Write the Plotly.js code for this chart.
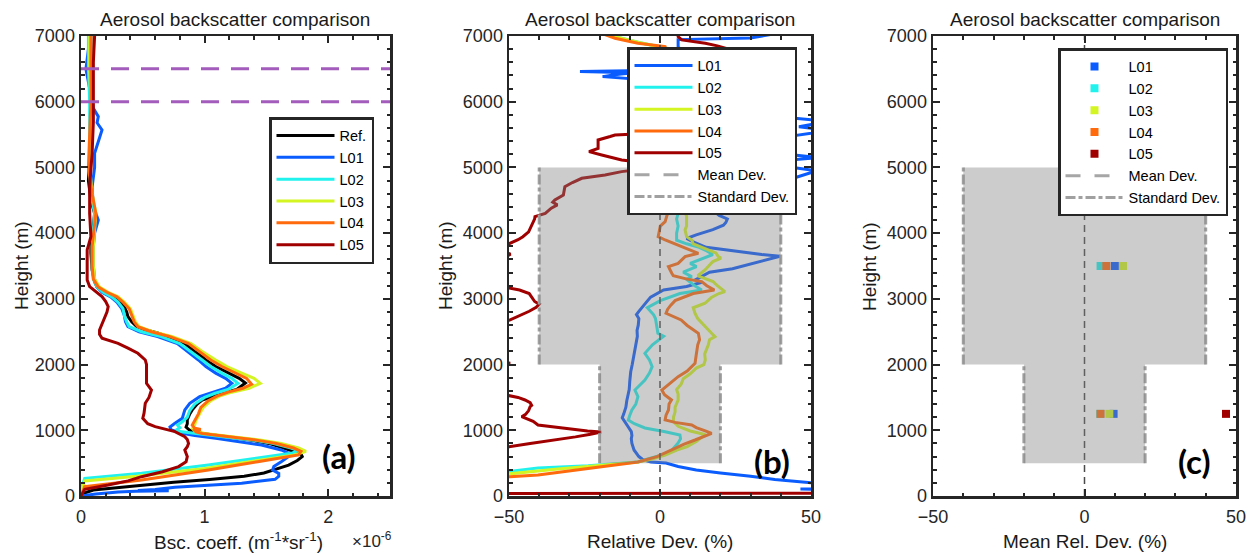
<!DOCTYPE html>
<html><head><meta charset="utf-8">
<script src="https://cdn.plot.ly/plotly-3.0.1.min.js"></script>
<style>html,body{margin:0;padding:0;background:#fff}#chart{width:1249px;height:555px}</style>
</head><body><div id="chart"></div>
<script>
// ---------------- DATA ----------------
// Panel (a): backscatter profiles [height (m), bsc coeff (x1e-6 m^-1 sr^-1)]
const aRef = [[0,0],[40,0.02],[90,0.1],[130,0.3],[170,0.5],[210,0.75],[250,1.04],[300,1.32],[350,1.48],[400,1.57],[470,1.68],[540,1.75],[600,1.79],[640,1.78],[680,1.72],[730,1.64],[800,1.52],[850,1.38],[900,1.18],[950,0.98],[1000,0.88],[1050,0.85],[1100,0.86],[1160,0.86],[1250,0.88],[1310,0.9],[1400,0.94],[1460,0.98],[1520,1.08],[1570,1.15],[1620,1.26],[1680,1.3],[1720,1.33],[1790,1.28],[1870,1.2],[1970,1.09],[2070,1.01],[2120,0.98],[2200,0.92],[2320,0.84],[2400,0.74],[2480,0.62],[2530,0.52],[2580,0.45],[2650,0.41],[2730,0.38],[2800,0.37],[2880,0.35],[2960,0.31],[3030,0.26],[3100,0.19],[3180,0.13],[3260,0.11],[3440,0.09],[3700,0.08],[3900,0.08],[4100,0.1],[4300,0.11],[4500,0.08],[4800,0.06],[5100,0.07],[5500,0.08],[5900,0.08],[6300,0.07],[6700,0.08],[7000,0.08]];
const aL01 = [[0,0],[30,0.12],[60,0.3],[72,0.44],[78,0.71],[84,0.46],[100,0.6],[132,0.76],[193,1.3],[254,1.57],[300,1.6],[345,1.6],[396,1.55],[450,1.56],[520,1.62],[600,1.68],[650,1.68],[700,1.62],[776,1.46],[830,1.28],[878,1.09],[920,0.92],[954,0.82],[1005,0.73],[1050,0.72],[1106,0.76],[1183,0.82],[1250,0.83],[1309,0.84],[1411,0.88],[1512,0.96],[1580,1.07],[1640,1.17],[1715,1.22],[1790,1.17],[1870,1.09],[1970,1.01],[2070,0.95],[2200,0.86],[2320,0.78],[2425,0.62],[2500,0.47],[2577,0.38],[2650,0.36],[2750,0.35],[2850,0.33],[2950,0.29],[3030,0.24],[3100,0.17],[3180,0.13],[3300,0.11],[3500,0.1],[3800,0.1],[4000,0.11],[4200,0.14],[4400,0.1],[4700,0.09],[5000,0.11],[5216,0.11],[5400,0.14],[5570,0.17],[5680,0.13],[5773,0.14],[5900,0.1],[6200,0.07],[6500,0.04],[6800,0.06],[7000,0.07]];
const aL02 = [[0,0],[150,0.01],[269,0.03],[345,0.49],[472,1.03],[573,1.43],[650,1.7],[690,1.76],[730,1.7],[800,1.56],[850,1.4],[903,1.15],[950,0.9],[980,0.8],[1005,0.77],[1040,0.8],[1080,0.78],[1130,0.82],[1200,0.86],[1300,0.88],[1400,0.92],[1500,1.0],[1560,1.08],[1620,1.19],[1715,1.27],[1790,1.22],[1870,1.14],[1970,1.05],[2070,0.98],[2200,0.89],[2320,0.8],[2425,0.65],[2500,0.49],[2577,0.39],[2650,0.37],[2750,0.35],[2850,0.34],[2950,0.3],[3030,0.25],[3100,0.18],[3180,0.13],[3300,0.1],[3500,0.09],[3800,0.09],[4100,0.1],[4300,0.11],[4600,0.08],[5000,0.07],[5500,0.07],[6000,0.07],[6500,0.06],[7000,0.06]];
const aL03 = [[0,0],[120,0.01],[228,0.03],[300,0.45],[420,1.0],[530,1.42],[620,1.72],[680,1.82],[730,1.76],[800,1.62],[850,1.46],[903,1.22],[950,1.0],[990,0.92],[1030,0.9],[1080,0.92],[1150,0.93],[1250,0.96],[1350,0.99],[1450,1.05],[1520,1.12],[1580,1.22],[1640,1.36],[1715,1.45],[1790,1.4],[1870,1.3],[1970,1.18],[2070,1.09],[2200,0.98],[2320,0.89],[2425,0.74],[2500,0.58],[2577,0.47],[2650,0.44],[2750,0.42],[2850,0.4],[2950,0.35],[3030,0.3],[3100,0.22],[3180,0.15],[3300,0.11],[3500,0.1],[3800,0.1],[4100,0.11],[4300,0.12],[4600,0.09],[5000,0.07],[5500,0.08],[6000,0.08],[6500,0.07],[7000,0.07]];
const aL04 = [[0,0],[60,0.01],[142,0.03],[243,0.49],[396,1.03],[522,1.43],[624,1.76],[680,1.78],[730,1.72],[800,1.58],[850,1.42],[903,1.2],[950,0.98],[975,0.93],[1000,0.92],[1012,0.97],[1030,0.92],[1080,0.9],[1150,0.92],[1250,0.95],[1350,0.97],[1450,1.03],[1520,1.1],[1580,1.19],[1640,1.31],[1700,1.38],[1790,1.34],[1870,1.25],[1970,1.14],[2070,1.05],[2200,0.96],[2320,0.87],[2425,0.72],[2500,0.57],[2577,0.46],[2650,0.43],[2750,0.41],[2850,0.39],[2950,0.34],[3030,0.29],[3100,0.21],[3180,0.14],[3300,0.1],[3500,0.09],[3800,0.09],[4100,0.11],[4300,0.12],[4600,0.09],[5000,0.06],[5500,0.07],[6000,0.08],[6500,0.08],[7000,0.08]];
const aL05 = [[0,0],[101,0.03],[167,0.22],[230,0.38],[294,0.49],[370,0.66],[447,0.79],[520,0.85],[599,0.86],[650,0.85],[700,0.84],[750,0.86],[801,0.87],[860,0.86],[903,0.84],[979,0.76],[1030,0.66],[1055,0.6],[1100,0.54],[1183,0.5],[1260,0.51],[1360,0.52],[1411,0.52],[1500,0.55],[1613,0.57],[1715,0.53],[1820,0.53],[1918,0.53],[2000,0.53],[2070,0.52],[2172,0.46],[2250,0.38],[2324,0.3],[2400,0.17],[2460,0.15],[2527,0.15],[2620,0.17],[2729,0.19],[2800,0.21],[2881,0.22],[2960,0.2],[3034,0.17],[3110,0.12],[3186,0.07],[3288,0.05],[3500,0.05],[3744,0.05],[3947,0.08],[4300,0.07],[4708,0.07],[5216,0.09],[5700,0.1],[6230,0.1],[6600,0.1],[7000,0.11]];
const calibHeights = [6000, 6500];

// Panel (b): relative deviation profiles [height (m), deviation (%)]
const bL01 = [[20,200],[90,60],[105,46.5],[115,60],[190,52],[203,50],[250,38],[300,30],[350,20],[396,12],[450,6],[502,2],[517,-3],[550,-5.5],[600,-7],[700,-8.6],[800,-9.3],[870,-9.5],[920,-9.3],[980,-9.5],[1050,-10.5],[1135,-11.8],[1190,-12.5],[1250,-12],[1350,-11.3],[1450,-11],[1550,-10.5],[1620,-10.2],[1750,-10],[1890,-9.7],[2000,-9.2],[2160,-8.6],[2300,-8],[2430,-7.5],[2520,-7.6],[2600,-7.2],[2700,-7],[2760,-7.8],[2810,-7],[2865,-5.9],[2950,-4.5],[3027,-3.1],[3100,-0.5],[3135,1.2],[3189,8.8],[3243,13.1],[3297,12],[3350,14],[3405,16.4],[3459,24],[3513,28.3],[3540,30.5],[3594,34.8],[3648,39.7],[3675,33.7],[3729,25],[3784,15.3],[3865,11],[3919,8.8],[3973,12],[4054,17.5],[4120,21],[4162,21.8],[4216,22.3],[4250,20.5],[4270,19.6],[4351,17.5],[4378,11],[4405,7.7],[4450,10],[4600,28],[4800,42],[4950,52],[5000,44],[5100,40],[5150,53],[5200,42],[5350,40],[5480,44],[5560,56],[5620,46],[5700,56],[5760,42],[5900,30],[6100,15],[6250,2],[6340,-7],[6382,-19],[6410,-15],[6440,-9],[6458,-26.5],[6475,-5],[6550,5],[6700,10],[6830,6],[6945,6],[6970,30],[7050,40]];
const bL02 = [[100,-300],[250,-80],[330,-58],[378,-50],[426,-40.4],[461,-23.8],[490,-14],[517,-7.3],[563,-4],[624,0.7],[700,4],[807,6],[870,6.8],[928,6.6],[979,1.7],[1035,-5],[1100,-8.5],[1157,-10.5],[1230,-10],[1309,-9.3],[1400,-8],[1511,-7.3],[1613,-8.3],[1700,-6.5],[1765,-5],[1870,-3.5],[1968,-2.6],[2070,-3.5],[2171,-5],[2300,-2.5],[2432,1.2],[2476,-0.7],[2595,-1],[2700,-1.5],[2757,-2.1],[2865,-4.2],[2973,0.1],[3081,6.6],[3135,13.8],[3200,11.5],[3297,8.8],[3338,10.5],[3405,7.7],[3490,12.1],[3540,10],[3621,14.2],[3642,15.9],[3675,17.5],[3730,15.5],[3784,13],[3838,8.8],[3892,5.5],[4000,5.5],[4108,6],[4216,5.5],[4300,6],[4383,7.2],[4450,8],[4700,12],[5000,14],[5500,10],[6000,8],[6500,4],[6834,0],[6900,-7],[6990,-15],[7050,-20]];
const bL03 = [[100,-300],[220,-80],[300,-58],[340,-50],[380,-42],[415,-33],[450,-24],[490,-15],[517,-7.3],[560,-3],[624,1.7],[700,5.5],[751,9],[830,12],[900,14],[940,14.5],[990,10],[1060,6],[1135,4.4],[1207,4.5],[1280,5],[1351,5],[1461,6],[1550,6],[1621,5.5],[1700,7],[1784,7.7],[1860,10],[1946,12],[2000,14.5],[2070,15],[2162,14.8],[2300,16],[2378,16.4],[2425,18.2],[2480,17],[2577,14.9],[2700,12.5],[2780,11.6],[2865,11],[2933,14.9],[3020,17],[3081,19.5],[3110,21.5],[3200,19],[3262,17.6],[3351,12.5],[3440,14.9],[3520,16.5],[3567,17.5],[3621,20.2],[3642,19.3],[3700,18.5],[3760,15],[3838,11],[3896,10.5],[3946,8.8],[4049,8.3],[4108,8.8],[4252,8.8],[4300,8.5],[4383,9.3],[4450,10],[4700,14],[5000,16],[5500,12],[6000,9],[6500,5],[6834,0],[6900,-7],[6990,-15],[7050,-20]];
const bL04 = [[100,-300],[200,-80],[260,-58],[294,-49.7],[320,-40.4],[380,-30],[426,-23.8],[480,-13],[517,-7.3],[600,-1],[700,3.8],[790,8],[852,11.6],[920,15.5],[954,17.1],[990,15],[1040,12],[1081,10.5],[1120,5],[1157,1.7],[1230,2],[1309,2.8],[1400,3],[1461,3.8],[1540,1.5],[1613,0.6],[1700,3],[1816,6],[1900,9],[2019,11.6],[2150,12],[2300,12.5],[2378,13.1],[2476,12.7],[2595,9],[2679,7],[2780,2],[2840,2.5],[2900,3.5],[2973,5],[3081,11],[3135,18],[3200,15.5],[3262,13.8],[3300,9],[3351,4.4],[3389,3.9],[3459,3],[3490,2.8],[3540,6],[3642,8.3],[3693,12.7],[3740,10],[3838,4.4],[3896,1.7],[3947,-0.6],[4000,-0.4],[4049,0],[4108,0.1],[4176,1.7],[4270,2.3],[4379,3.3],[4450,4],[4700,8],[5000,10],[5500,8],[6000,6],[6500,4],[6839,1.7],[6890,-7.3],[6966,-14.9],[7050,-20]];
const bL05 = [[35,-300],[45,300],[null,null],[600,-300],[740,-52],[751,-50],[800,-43],[852,-34.8],[900,-28],[940,-23],[959,-20.5],[975,-19.5],[990,-24],[1027,-31.3],[1081,-40.4],[1135,-42],[1207,-45.8],[1243,-44.5],[1300,-43.5],[1360,-43],[1378,-42.5],[1420,-43],[1461,-44.7],[1500,-47],[1537,-51.3],[1600,-58],[1800,-60],[1980,-55],[2019,-49.6],[2060,-55],[2300,-70],[2600,-58],[2676,-49.8],[2750,-46],[2811,-43.3],[2870,-41],[2919,-40],[2960,-41.5],[3030,-42.5],[3081,-43.3],[3135,-46.5],[3162,-50],[3250,-60],[3500,-62],[3640,-51],[3680,-49.5],[3720,-52],[3790,-51],[3846,-49.7],[3900,-47],[3946,-45.4],[4020,-43.5],[4108,-42.5],[4216,-41.5],[4252,-41.4],[4300,-38],[4380,-36],[4430,-34],[4470,-35.5],[4505,-34.8],[4580,-32],[4650,-31.7],[4708,-31.5],[4770,-29],[4835,-25.9],[4886,-18.2],[4936,-12.7],[4980,-5],[5030,0],[5070,-5],[5114,-12.7],[5190,-19.3],[5240,-23.5],[5290,-20.5],[5418,-20.5],[5470,-16.5],[5494,-14.9],[5510,-8],[5700,2],[6000,10],[6400,18],[6700,24],[6788,23.7],[6850,19],[6890,15],[6940,7.2],[6990,6],[7050,6]];

// Panel (c): mean relative deviation per layer
const cHeights = [1250, 3500];
const cL01 = [9.6, 10.0];
const cL02 = [5.2, 5.3];
const cL03 = [8.2, 12.7];
const cL04 = [5.3, 7.2];
const cL05 = [46.7, null];

// Reference mean deviation and standard-deviation bands
const meanDev = 0;
const stdBands = [{hmin:500, hmax:2000, sd:20}, {hmin:2000, hmax:5000, sd:40}];

// Axis settings
const heightRange = [0, 7000];
const heightTicks = [0,1000,2000,3000,4000,5000,6000,7000];
const bscRange = [0, 2.5];
const bscTicks = [0, 1, 2];
const devRange = [-50, 50];
const devTicks = [-50, 0, 50];

const names = ['L01','L02','L03','L04','L05'];
const COL = {'Ref.':'#000000', L01:'#0a5cff', L02:'#22f2ee', L03:'#d4f522', L04:'#ff6a0c', L05:'#a00000'};

// ---------------- BUILD ----------------
const W = 1249, H = 555;
const FONT = '"Liberation Sans", Arial, Helvetica, sans-serif';
const fx = p => p / W, fy = p => 1 - p / H;
const xs = arr => arr.map(p => p[1]);
const ys = arr => arr.map(p => p[0]);

const traces = [];
const aSeries = [['Ref.', aRef], ['L01', aL01], ['L02', aL02], ['L03', aL03], ['L04', aL04], ['L05', aL05]];
aSeries.forEach(([n, d]) => traces.push({type:'scatter', mode:'lines', name:n, x:xs(d), y:ys(d), xaxis:'x', yaxis:'y',
  line:{color:COL[n], width:3}, legend:'legend', hoverinfo:'skip'}));

const bSeries = [bL01, bL02, bL03, bL04, bL05];
bSeries.forEach((d, i) => traces.push({type:'scatter', mode:'lines', name:names[i], x:xs(d), y:ys(d), xaxis:'x2', yaxis:'y2',
  line:{color:COL[names[i]], width:3}, legend:'legend2', connectgaps:false, hoverinfo:'skip'}));

const cSeries = [cL01, cL02, cL03, cL04, cL05];
cSeries.forEach((d, i) => traces.push({type:'scatter', mode:'markers', name:names[i], x:d, y:cHeights, xaxis:'x3', yaxis:'y3',
  marker:{color:COL[names[i]], size:8, symbol:'square', line:{width:0}}, legend:'legend3', hoverinfo:'skip'}));

// std band edges and mean line for (b) and (c)
function stdEdges() {
  const x = [], y = [];
  stdBands.forEach(b => { [-1, 1].forEach(s => { x.push(meanDev + s*b.sd, meanDev + s*b.sd, null); y.push(b.hmin, b.hmax, null); }); });
  return {x, y};
}
function bandPath() {
  const right = stdBands.map(b => `L${meanDev + b.sd},${b.hmin} L${meanDev + b.sd},${b.hmax}`).join(' ');
  const left = stdBands.slice().reverse().map(b => `L${meanDev - b.sd},${b.hmax} L${meanDev - b.sd},${b.hmin}`).join(' ');
  const b0 = stdBands[0];
  return `M${meanDev - b0.sd},${b0.hmin} ${right} ${left} Z`;
}
[['x2','y2','legend2'], ['x3','y3','legend3']].forEach(([xa, ya, lg]) => {
  traces.push({type:'scatter', mode:'lines', x:[meanDev, meanDev], y:heightRange, xaxis:xa, yaxis:ya, showlegend:false,
    line:{color:'#4a4a4a', width:1.5, dash:'7px,5px'}, hoverinfo:'skip'});
  traces.push({type:'scatter', mode:'lines', name:'Mean Dev.', x:[null], y:[null], xaxis:xa, yaxis:ya, legend:lg,
    line:{color:'#a6a6a6', width:3, dash:'15px,14px'}, hoverinfo:'skip'});
  const e = stdEdges();
  traces.push({type:'scatter', mode:'lines', name:'Standard Dev.', x:e.x, y:e.y, xaxis:xa, yaxis:ya, legend:lg, connectgaps:false,
    line:{color:'#a0a0a0', width:3, dash:'10px,3px,4px,3px'}, hoverinfo:'skip'});
});

const shapes = [];
calibHeights.forEach(h => shapes.push({type:'line', xref:'x domain', yref:'y', x0:0, x1:1, y0:h, y1:h,
  line:{color:'#a35cbb', width:3, dash:'18px,12px'}, layer:'above'}));
[['x2','y2'], ['x3','y3']].forEach(([xa, ya]) => shapes.push({type:'path', xref:xa, yref:ya, path:bandPath(),
  fillcolor:'rgb(128,128,128)', opacity:0.4, line:{width:0}, layer:'above'}));

const axBase = {showline:true, linecolor:'#262626', linewidth:2.5, mirror:'ticks', ticks:'inside', ticklen:7, tickwidth:2,
  tickcolor:'#262626', showgrid:false, zeroline:false, fixedrange:true,
  tickfont:{family:FONT, size:18, color:'#262626'}};
const minor = dt => ({ticks:'inside', ticklen:3.5, tickwidth:2, tickcolor:'#262626', dtick:dt, showgrid:false});
const yDom = [fy(496), fy(36)];
const yAx = (anchor) => Object.assign({}, axBase, {domain:yDom, range:heightRange, tickvals:heightTicks, anchor, minor:minor(200)});
const xAx = (dom, range, tickvals, anchor, mdt) => Object.assign({}, axBase, {domain:dom, range, tickvals, anchor, minor:minor(mdt), ticklabelstandoff:3});

const legBase = {bgcolor:'#ffffff', bordercolor:'#262626', borderwidth:2.5, xanchor:'left', yanchor:'top',
  font:{family:FONT, size:14.5, color:'#000'}, itemwidth:58, tracegroupgap:0};

const ann = [];
const titleFont = {family:FONT, size:19, color:'#1a1a1a'};
[235, 660, 1085].forEach(cx => ann.push({text:'Aerosol backscatter comparison', x:fx(cx), y:fy(20), xref:'paper', yref:'paper',
  showarrow:false, xanchor:'center', yanchor:'middle', font:titleFont}));
[21, 445, 869].forEach(cx => ann.push({text:'Height (m)', x:fx(cx), y:fy(266), xref:'paper', yref:'paper', textangle:-90,
  showarrow:false, xanchor:'center', yanchor:'middle', font:titleFont}));
ann.push({text:'Bsc. coeff. (m<sup>-1</sup>*sr<sup>-1</sup>)', x:fx(238), y:fy(541), xref:'paper', yref:'paper', showarrow:false, xanchor:'center', yanchor:'middle', font:titleFont});
ann.push({text:'×10<sup>-6</sup>', x:fx(372), y:fy(540), xref:'paper', yref:'paper', showarrow:false, xanchor:'center', yanchor:'middle', font:{family:FONT, size:17, color:'#262626'}});
ann.push({text:'Relative Dev. (%)', x:fx(660), y:fy(541), xref:'paper', yref:'paper', showarrow:false, xanchor:'center', yanchor:'middle', font:titleFont});
ann.push({text:'Mean Rel. Dev. (%)', x:fx(1085), y:fy(541), xref:'paper', yref:'paper', showarrow:false, xanchor:'center', yanchor:'middle', font:titleFont});
[['(a)', 339, 456], ['(b)', 772, 461], ['(c)', 1194, 461]].forEach(([t, cx, cy]) => ann.push({text:'<b>' + t + '</b>', x:fx(cx), y:fy(cy),
  xref:'paper', yref:'paper', showarrow:false, xanchor:'center', yanchor:'middle', font:{family:'Lato, "Open Sans", sans-serif', size:33, color:'#000'}}));

const layout = {
  width:W, height:H, margin:{l:0, r:0, t:0, b:0}, paper_bgcolor:'#fff', plot_bgcolor:'#fff',
  font:{family:FONT, color:'#262626'}, showlegend:true,
  xaxis: xAx([fx(81), fx(390)], bscRange, bscTicks, 'y', 0.2),
  yaxis: yAx('x'),
  xaxis2: xAx([fx(509), fx(811)], devRange, devTicks, 'y2', 10),
  yaxis2: yAx('x2'),
  xaxis3: xAx([fx(933), fx(1236)], devRange, devTicks, 'y3', 10),
  yaxis3: yAx('x3'),
  legend: Object.assign({}, legBase, {x:fx(269), y:fy(117)}),
  legend2: Object.assign({}, legBase, {x:fx(627), y:fy(47)}),
  legend3: Object.assign({}, legBase, {x:fx(1058), y:fy(48)}),
  shapes, annotations: ann
};

Plotly.newPlot('chart', traces, layout, {staticPlot:true, displayModeBar:false});
</script></body></html>
